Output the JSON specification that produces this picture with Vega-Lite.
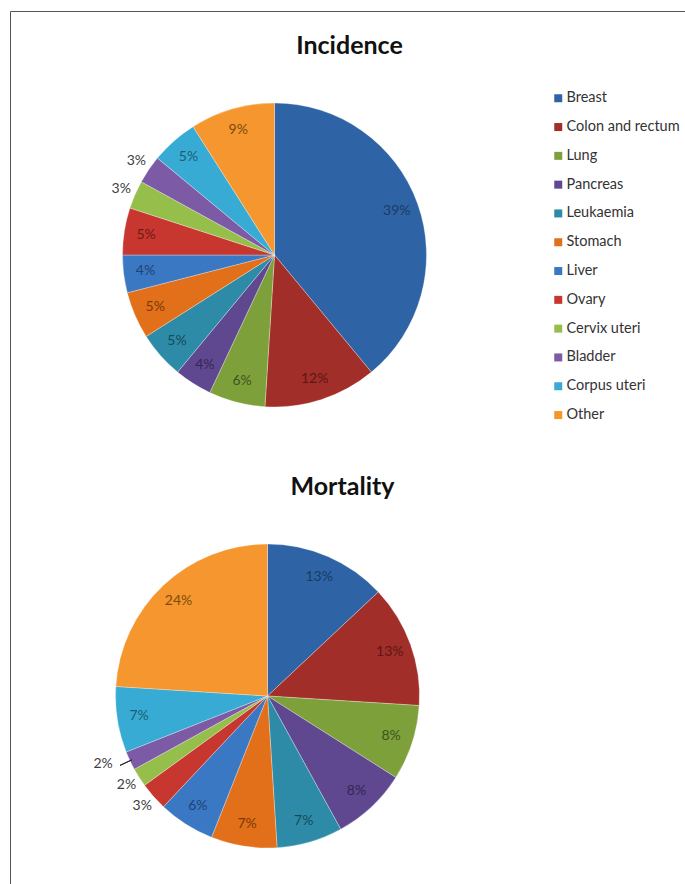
{
  "$schema": "https://vega.github.io/schema/vega-lite/v6.json",
  "width": 676,
  "height": 874,
  "autosize": {"type": "none"},
  "padding": {"left": 10, "top": 11, "right": -1, "bottom": -1},
  "background": "white",
  "config": {
    "view": {"stroke": "#555555", "strokeWidth": 1},
    "font": "Lato",
    "text": {"font": "Lato"}
  },
  "data": {
    "values": [
      {"chart": "Incidence", "site": "Breast", "pct": 39},
      {"chart": "Incidence", "site": "Colon and rectum", "pct": 12},
      {"chart": "Incidence", "site": "Lung", "pct": 6},
      {"chart": "Incidence", "site": "Pancreas", "pct": 4},
      {"chart": "Incidence", "site": "Leukaemia", "pct": 5},
      {"chart": "Incidence", "site": "Stomach", "pct": 5},
      {"chart": "Incidence", "site": "Liver", "pct": 4},
      {"chart": "Incidence", "site": "Ovary", "pct": 5},
      {"chart": "Incidence", "site": "Cervix uteri", "pct": 3},
      {"chart": "Incidence", "site": "Bladder", "pct": 3},
      {"chart": "Incidence", "site": "Corpus uteri", "pct": 5},
      {"chart": "Incidence", "site": "Other", "pct": 9},
      {"chart": "Mortality", "site": "Breast", "pct": 13},
      {"chart": "Mortality", "site": "Colon and rectum", "pct": 13},
      {"chart": "Mortality", "site": "Lung", "pct": 8},
      {"chart": "Mortality", "site": "Pancreas", "pct": 8},
      {"chart": "Mortality", "site": "Leukaemia", "pct": 7},
      {"chart": "Mortality", "site": "Stomach", "pct": 7},
      {"chart": "Mortality", "site": "Liver", "pct": 6},
      {"chart": "Mortality", "site": "Ovary", "pct": 3},
      {"chart": "Mortality", "site": "Cervix uteri", "pct": 2},
      {"chart": "Mortality", "site": "Bladder", "pct": 2},
      {"chart": "Mortality", "site": "Corpus uteri", "pct": 7},
      {"chart": "Mortality", "site": "Other", "pct": 24}
    ]
  },
  "transform": [
    {"window": [{"op": "sum", "field": "pct", "as": "end"}], "groupby": ["chart"]},
    {"calculate": "datum.end - datum.pct", "as": "start"},
    {"calculate": "datum.end - datum.pct / 2", "as": "mid"},
    {"calculate": "datum.pct + '%'", "as": "label"}
  ],
  "encoding": {
    "x": {
      "field": "chart", "type": "nominal", "axis": null,
      "scale": {"type": "point", "domain": ["Incidence", "Mortality"], "range": [264.5, 257.5], "padding": 0}
    },
    "y": {
      "field": "chart", "type": "nominal", "axis": null,
      "scale": {"type": "point", "domain": ["Incidence", "Mortality"], "range": [244, 685], "padding": 0}
    }
  },
  "layer": [
    {
      "mark": {"type": "arc", "radius": 152, "stroke": "white", "strokeWidth": 0.5, "strokeOpacity": 0.6},
      "encoding": {
        "theta": {"field": "start", "type": "quantitative", "stack": null, "scale": {"domain": [0, 100]}},
        "theta2": {"field": "end"},
        "color": {
          "field": "site", "type": "nominal",
          "scale": {
            "domain": ["Breast", "Colon and rectum", "Lung", "Pancreas", "Leukaemia", "Stomach", "Liver", "Ovary", "Cervix uteri", "Bladder", "Corpus uteri", "Other"],
            "range": ["#2e64a6", "#a22e29", "#7ea03a", "#5f4890", "#2d8ba8", "#e2701a", "#3b78c4", "#c8372f", "#96be4a", "#7d5aa5", "#37abd4", "#f5962e"]
          },
          "legend": {
            "orient": "none", "legendX": 541, "legendY": 80, "title": null,
            "symbolType": "square", "symbolSize": 64, "symbolStrokeWidth": 0,
            "labelFont": "Lato", "labelFontSize": 14.5, "labelColor": "#333333",
            "labelOffset": 1, "rowPadding": 13.8, "padding": 0
          }
        }
      }
    },
    {
      "transform": [{"filter": "datum.pct > 3"}],
      "mark": {"type": "text", "radius": 130, "fontSize": 14, "align": "center", "baseline": "middle"},
      "encoding": {
        "theta": {"field": "mid", "type": "quantitative", "stack": null, "scale": {"domain": [0, 100]}},
        "text": {"field": "label"},
        "color": {
          "field": "site", "type": "nominal", "legend": null,
          "scale": {
            "domain": ["Breast", "Colon and rectum", "Lung", "Pancreas", "Leukaemia", "Stomach", "Liver", "Ovary", "Cervix uteri", "Bladder", "Corpus uteri", "Other"],
            "range": ["#1c3a63", "#5a1714", "#3f5220", "#352651", "#184a59", "#7a3a08", "#1f4372", "#6e1a17", "#4e6a1f", "#43305e", "#1c5e74", "#7f4a10"]
          }
        }
      }
    },
    {
      "transform": [{"filter": "datum.pct <= 3 && !(datum.chart == 'Mortality' && datum.site == 'Bladder')"}],
      "mark": {"type": "text", "radius": 167, "fontSize": 14, "align": "center", "baseline": "middle", "color": "#404040"},
      "encoding": {
        "theta": {"field": "mid", "type": "quantitative", "stack": null, "scale": {"domain": [0, 100]}},
        "text": {"field": "label"}
      }
    },
    {
      "transform": [{"filter": "datum.chart == 'Mortality' && datum.site == 'Bladder'"}],
      "mark": {"type": "text", "radius": 171, "fontSize": 14, "align": "right", "baseline": "middle", "dy": -5, "color": "#404040"},
      "encoding": {
        "theta": {"field": "mid", "type": "quantitative", "stack": null, "scale": {"domain": [0, 100]}},
        "text": {"field": "label"}
      }
    },
    {
      "transform": [{"filter": "datum.chart == 'Mortality' && datum.site == 'Bladder'"}],
      "mark": {"type": "arc", "radius": 163, "radius2": 150, "filled": false, "stroke": "#222222", "strokeWidth": 1},
      "encoding": {
        "theta": {"field": "mid", "type": "quantitative", "stack": null, "scale": {"domain": [0, 100]}},
        "theta2": {"field": "mid"}
      }
    },
    {
      "transform": [{"aggregate": [], "groupby": ["chart"]}],
      "mark": {"type": "text", "fontSize": 25, "fontWeight": "bold", "dx": 75, "dy": -209, "align": "center", "baseline": "middle", "color": "#111111"},
      "encoding": {
        "text": {"field": "chart"}
      }
    }
  ],
  "resolve": {"scale": {"color": "independent"}}
}
